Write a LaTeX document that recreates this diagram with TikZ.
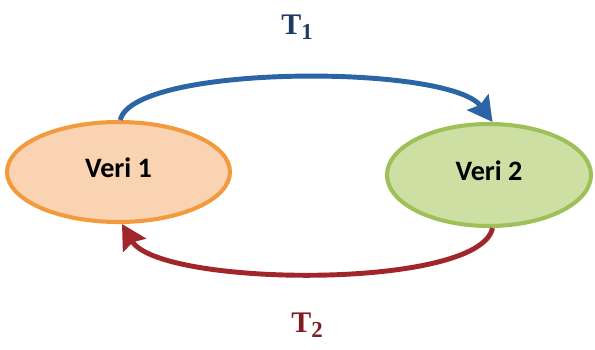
\documentclass[tikz,border=0pt]{standalone}
\usepackage{fontspec}
\setmainfont{Carlito}
\newfontfamily\etiketfont{Liberation Serif}
\usepackage{tikz}
\usetikzlibrary{arrows.meta,shapes.geometric,positioning}
\definecolor{turuncu}{HTML}{F39A3C}
\definecolor{acikTuruncu}{HTML}{FAD3B3}
\definecolor{yesil}{HTML}{9DC059}
\definecolor{acikYesil}{HTML}{CDDFA3}
\definecolor{okMavi}{HTML}{2B65A6}
\definecolor{okKirmizi}{HTML}{A0262C}
\definecolor{koyuMavi}{HTML}{1F3A66}
\definecolor{koyuKirmizi}{HTML}{7E1E24}
\newcommand{\tetiket}[1]{{\etiketfont\bfseries\fontsize{17}{19}\selectfont T\raisebox{-0.35ex}{\fontsize{13}{14}\selectfont #1}}}

\begin{document}
\begin{tikzpicture}
\useasboundingbox (0,0) rectangle (11.9,6.98);
\tikzset{
  veri/.style={ellipse,line width=2.3pt,inner sep=0pt,font=\bfseries\fontsize{16}{18}\selectfont},
  ok/.style={line width=2.8pt,-{Stealth[length=14pt,width=15pt,inset=2pt]}}
}
\node[veri,draw=turuncu,fill=acikTuruncu,minimum width=4.46cm,minimum height=2.0cm] (v1) at (2.37,3.54) {\raisebox{0.18cm}{Veri 1}};
\node[veri,draw=yesil,fill=acikYesil,minimum width=4.08cm,minimum height=2.04cm] (v2) at (9.78,3.48) {\raisebox{0.18cm}{Veri 2}};
% oklar
\draw[ok,okMavi] ([xshift=1pt]v1.north) .. controls +(0.26,1.12) and +(-0.86,1.16) .. ([xshift=2pt]v2.north);
\draw[ok,okKirmizi] ([xshift=2pt]v2.south) .. controls +(-0.26,-1.25) and +(0.74,-1.26) .. ([xshift=2pt]v1.south);
\node[koyuMavi] (t1) at (5.94,6.44) {\tetiket{1}};
\node[koyuKirmizi] (t2) at (6.14,0.48) {\tetiket{2}};
\end{tikzpicture}
\end{document}
